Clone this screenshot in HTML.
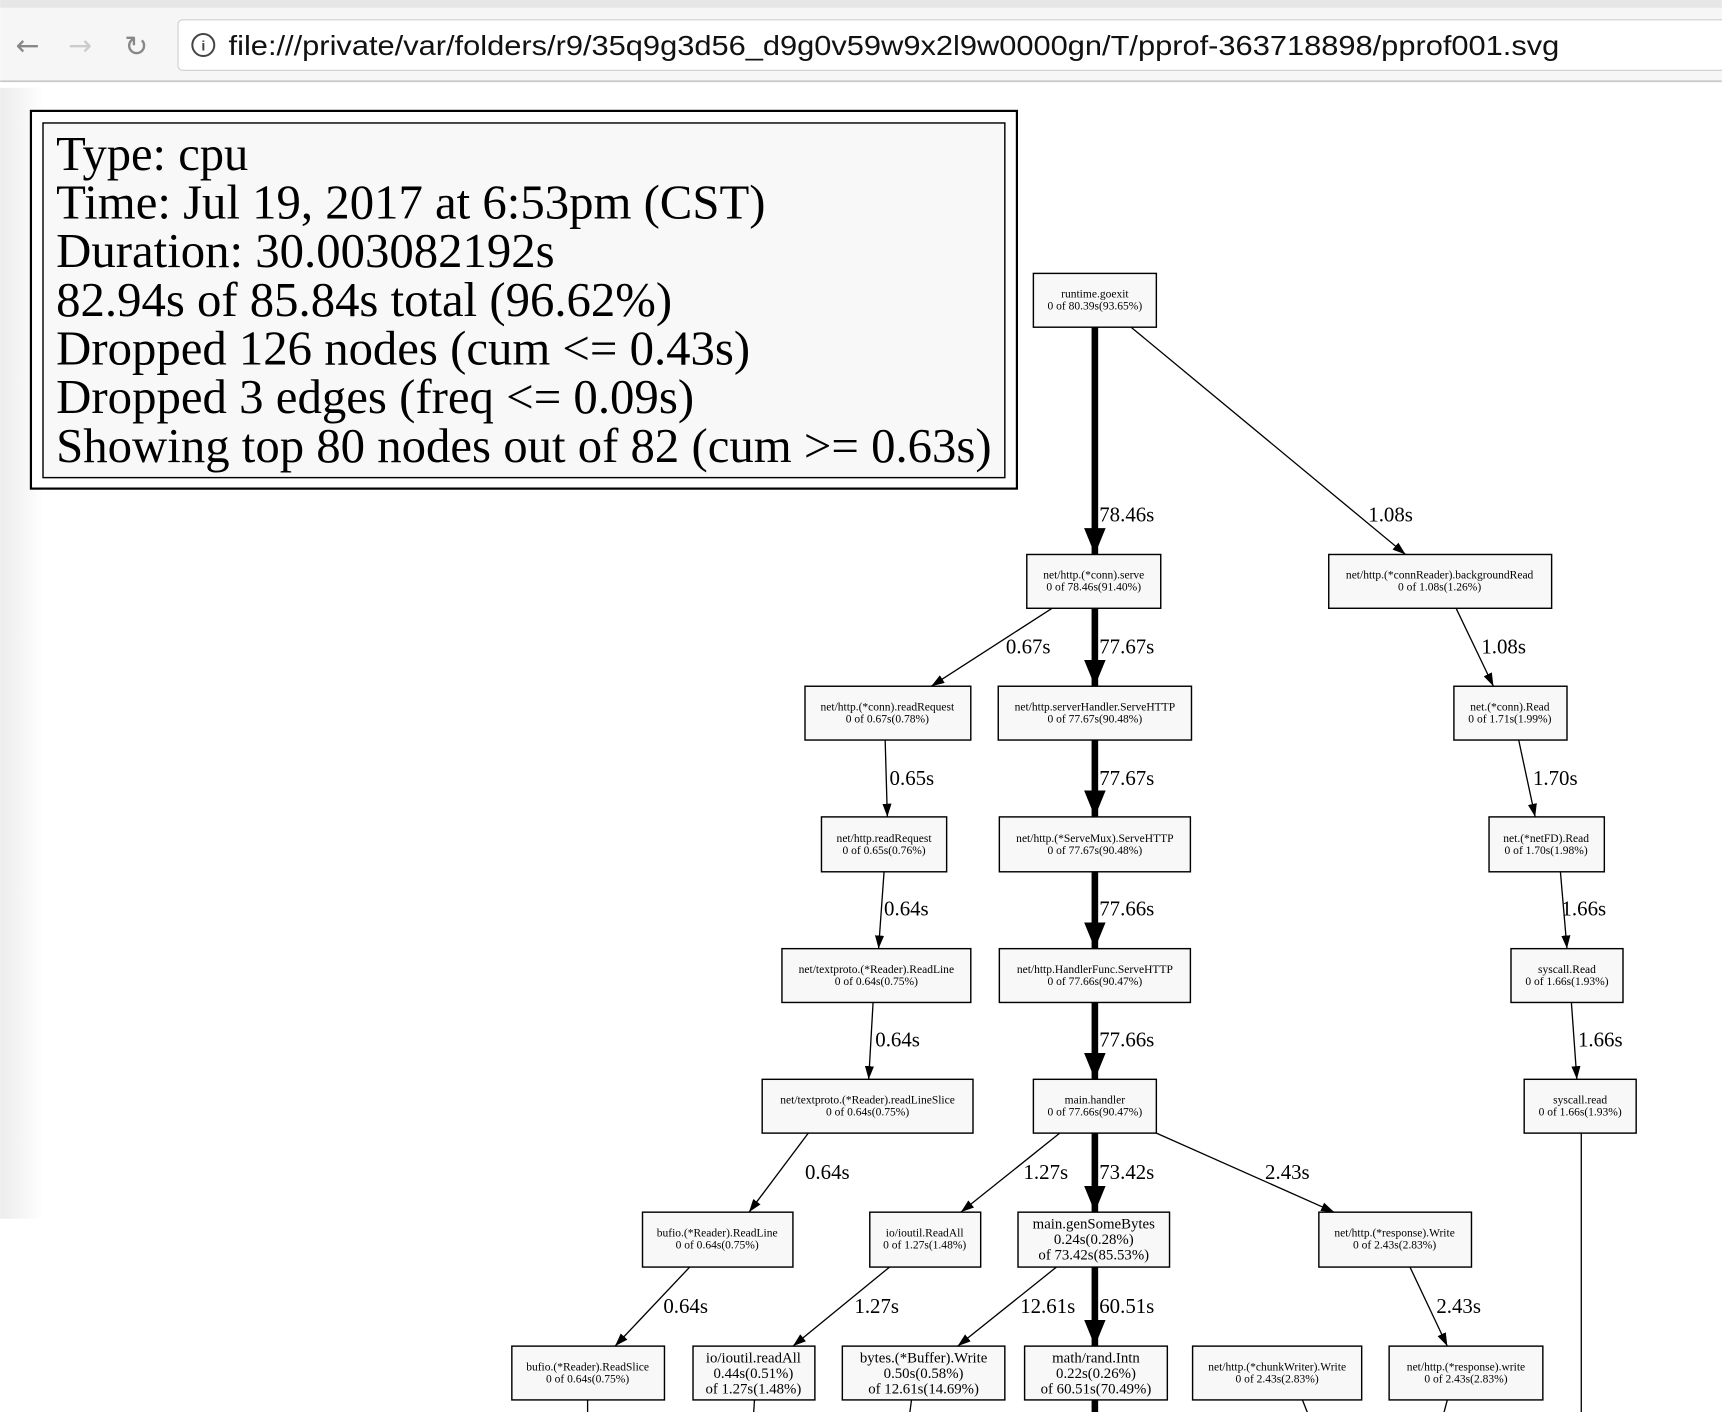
<!DOCTYPE html>
<html><head><meta charset="utf-8"><style>
html,body{margin:0;padding:0;background:#fff;width:1722px;height:1412px;overflow:hidden}
svg{display:block}
.n{fill:#f8f8f8;stroke:#000;stroke-width:1.3}
.t{font-family:"Liberation Serif",serif;font-size:10.5px;text-anchor:middle}
.b{font-family:"Liberation Serif",serif;font-size:13.5px;text-anchor:middle}
.l{font-family:"Liberation Serif",serif;font-size:19px}
.e{stroke:#000;stroke-width:1.2;fill:none}
.k{stroke:#000;stroke-width:6;fill:none}
</style></head><body>
<svg width="1722" height="1412" viewBox="0 0 1568 1286" xmlns="http://www.w3.org/2000/svg">
<defs>
<marker id="a" markerUnits="userSpaceOnUse" markerWidth="12" markerHeight="18" refX="16" refY="5.5" orient="auto" viewBox="0 0 16 11"><path d="M0,0 L16,5.5 L0,11 z" fill="#000"/></marker>
<marker id="A" markerUnits="userSpaceOnUse" markerWidth="24" markerHeight="20" refX="22" refY="9" orient="auto" viewBox="0 0 22 18"><path d="M0,0 L22,9 L0,18 z" fill="#000"/></marker>
<linearGradient id="sh" x1="0" x2="1"><stop offset="0" stop-color="#ececec"/><stop offset="1" stop-color="#fff"/></linearGradient>
</defs>
<rect x="0" y="0" width="1568" height="74" fill="#f6f6f6"/>
<rect x="0" y="0" width="1568" height="7" fill="#e6e6e6"/>
<line x1="0" y1="74" x2="1568" y2="74" stroke="#c8c8c8" stroke-width="1.5"/>
<rect x="162" y="18" width="1420" height="46" rx="4" fill="#fff" stroke="#cfcfcf"/>
<text x="14" y="50" font-family="DejaVu Sans,sans-serif" font-size="26" fill="#888">←</text>
<text x="62" y="50" font-family="DejaVu Sans,sans-serif" font-size="26" fill="#ccc">→</text>
<text x="113" y="51" font-family="DejaVu Sans,sans-serif" font-size="26" fill="#888">↻</text>
<circle cx="185" cy="41" r="10" fill="none" stroke="#444" stroke-width="1.8"/>
<text x="185" y="46" font-family="Liberation Sans,sans-serif" font-size="13" text-anchor="middle" fill="#444" font-weight="bold">i</text>
<text x="208" y="50" font-family="Liberation Sans,sans-serif" font-size="25" fill="#111" textLength="1212" lengthAdjust="spacingAndGlyphs">file:///private/var/folders/r9/35q9g3d56_d9g0v59w9x2l9w0000gn/T/pprof-363718898/pprof001.svg</text>
<rect x="0" y="80" width="40" height="1030" fill="url(#sh)"/>
<rect x="28" y="101" width="898" height="344" fill="#fff" stroke="#000" stroke-width="2"/>
<rect x="39" y="112" width="876" height="323" fill="#f8f8f8" stroke="#000" stroke-width="1.3"/>
<g font-family="Liberation Serif,serif" font-size="44" lengthAdjust="spacingAndGlyphs">
<text x="51" y="155" textLength="175" lengthAdjust="spacingAndGlyphs">Type: cpu</text>
<text x="51" y="199" textLength="646" lengthAdjust="spacingAndGlyphs">Time: Jul 19, 2017 at 6:53pm (CST)</text>
<text x="51" y="243" textLength="454" lengthAdjust="spacingAndGlyphs">Duration: 30.003082192s</text>
<text x="51" y="288" textLength="561" lengthAdjust="spacingAndGlyphs">82.94s of 85.84s total (96.62%)</text>
<text x="51" y="332" textLength="632" lengthAdjust="spacingAndGlyphs">Dropped 126 nodes (cum &lt;= 0.43s)</text>
<text x="51" y="376" textLength="581" lengthAdjust="spacingAndGlyphs">Dropped 3 edges (freq &lt;= 0.09s)</text>
<text x="51" y="421" textLength="852" lengthAdjust="spacingAndGlyphs">Showing top 80 nodes out of 82 (cum &gt;= 0.63s)</text>
</g>
<g class="k" marker-end="url(#A)">
<line x1="997" y1="298" x2="997" y2="505"/>
<line x1="997" y1="554" x2="997" y2="625"/>
<line x1="997" y1="674" x2="997" y2="744"/>
<line x1="997" y1="794" x2="997" y2="864"/>
<line x1="997" y1="913" x2="997" y2="983"/>
<line x1="997" y1="1032" x2="997" y2="1104"/>
<line x1="997" y1="1154" x2="997" y2="1226"/>
</g>
<line class="k" x1="997" y1="1275" x2="997" y2="1290"/>
<g class="e" marker-end="url(#a)">
<line x1="1030" y1="298" x2="1280" y2="505"/>
<line x1="958" y1="554" x2="848" y2="625"/>
<line x1="1326" y1="554" x2="1360" y2="625"/>
<line x1="806" y1="674" x2="808" y2="744"/>
<line x1="1383" y1="674" x2="1398" y2="744"/>
<line x1="805" y1="794" x2="800" y2="864"/>
<line x1="1421" y1="794" x2="1427" y2="864"/>
<line x1="795" y1="913" x2="791" y2="983"/>
<line x1="1431" y1="913" x2="1436" y2="983"/>
<line x1="736" y1="1032" x2="682" y2="1104"/>
<line x1="965" y1="1032" x2="875" y2="1104"/>
<line x1="1053" y1="1032" x2="1215" y2="1104"/>
<line x1="628" y1="1154" x2="560" y2="1226"/>
<line x1="810" y1="1154" x2="722" y2="1226"/>
<line x1="962" y1="1154" x2="872" y2="1226"/>
<line x1="1284" y1="1154" x2="1318" y2="1226"/>
</g>
<g class="e">
<line x1="1440" y1="1032" x2="1440" y2="1290"/>
<line x1="535" y1="1275" x2="535" y2="1290"/>
<line x1="687" y1="1275" x2="686" y2="1290"/>
<line x1="830" y1="1275" x2="828" y2="1290"/>
<line x1="1186" y1="1275" x2="1192" y2="1290"/>
<line x1="1318" y1="1275" x2="1314" y2="1290"/>
</g>
<g class="l">
<text x="1001" y="475">78.46s</text><text x="1246" y="475">1.08s</text>
<text x="916" y="595">0.67s</text><text x="1001" y="595">77.67s</text><text x="1349" y="595">1.08s</text>
<text x="810" y="715">0.65s</text><text x="1001" y="715">77.67s</text><text x="1396" y="715">1.70s</text>
<text x="805" y="834">0.64s</text><text x="1001" y="834">77.66s</text><text x="1422" y="834">1.66s</text>
<text x="797" y="953">0.64s</text><text x="1001" y="953">77.66s</text><text x="1437" y="953">1.66s</text>
<text x="733" y="1074">0.64s</text><text x="932" y="1074">1.27s</text><text x="1001" y="1074">73.42s</text><text x="1152" y="1074">2.43s</text>
<text x="604" y="1196">0.64s</text><text x="778" y="1196">1.27s</text><text x="929" y="1196">12.61s</text><text x="1001" y="1196">60.51s</text><text x="1308" y="1196">2.43s</text>
</g>
<g>
<rect class="n" x="941" y="249" width="112" height="49"/><text class="t" x="997" y="271">runtime.goexit</text><text class="t" x="997" y="282">0 of 80.39s(93.65%)</text>
<rect class="n" x="935" y="505" width="122" height="49"/><text class="t" x="996" y="527">net/http.(*conn).serve</text><text class="t" x="996" y="538">0 of 78.46s(91.40%)</text>
<rect class="n" x="1210" y="505" width="203" height="49"/><text class="t" x="1311" y="527">net/http.(*connReader).backgroundRead</text><text class="t" x="1311" y="538">0 of 1.08s(1.26%)</text>
<rect class="n" x="733" y="625" width="151" height="49"/><text class="t" x="808" y="647">net/http.(*conn).readRequest</text><text class="t" x="808" y="658">0 of 0.67s(0.78%)</text>
<rect class="n" x="909" y="625" width="176" height="49"/><text class="t" x="997" y="647">net/http.serverHandler.ServeHTTP</text><text class="t" x="997" y="658">0 of 77.67s(90.48%)</text>
<rect class="n" x="1324" y="625" width="103" height="49"/><text class="t" x="1375" y="647">net.(*conn).Read</text><text class="t" x="1375" y="658">0 of 1.71s(1.99%)</text>
<rect class="n" x="748" y="744" width="114" height="50"/><text class="t" x="805" y="767">net/http.readRequest</text><text class="t" x="805" y="778">0 of 0.65s(0.76%)</text>
<rect class="n" x="910" y="744" width="174" height="50"/><text class="t" x="997" y="767">net/http.(*ServeMux).ServeHTTP</text><text class="t" x="997" y="778">0 of 77.67s(90.48%)</text>
<rect class="n" x="1356" y="744" width="105" height="50"/><text class="t" x="1408" y="767">net.(*netFD).Read</text><text class="t" x="1408" y="778">0 of 1.70s(1.98%)</text>
<rect class="n" x="712" y="864" width="172" height="49"/><text class="t" x="798" y="886">net/textproto.(*Reader).ReadLine</text><text class="t" x="798" y="897">0 of 0.64s(0.75%)</text>
<rect class="n" x="910" y="864" width="174" height="49"/><text class="t" x="997" y="886">net/http.HandlerFunc.ServeHTTP</text><text class="t" x="997" y="897">0 of 77.66s(90.47%)</text>
<rect class="n" x="1376" y="864" width="102" height="49"/><text class="t" x="1427" y="886">syscall.Read</text><text class="t" x="1427" y="897">0 of 1.66s(1.93%)</text>
<rect class="n" x="694" y="983" width="192" height="49"/><text class="t" x="790" y="1005">net/textproto.(*Reader).readLineSlice</text><text class="t" x="790" y="1016">0 of 0.64s(0.75%)</text>
<rect class="n" x="941" y="983" width="112" height="49"/><text class="t" x="997" y="1005">main.handler</text><text class="t" x="997" y="1016">0 of 77.66s(90.47%)</text>
<rect class="n" x="1388" y="983" width="102" height="49"/><text class="t" x="1439" y="1005">syscall.read</text><text class="t" x="1439" y="1016">0 of 1.66s(1.93%)</text>
<rect class="n" x="585" y="1104" width="137" height="50"/><text class="t" x="653" y="1126">bufio.(*Reader).ReadLine</text><text class="t" x="653" y="1137">0 of 0.64s(0.75%)</text>
<rect class="n" x="792" y="1104" width="101" height="50"/><text class="t" x="842" y="1126">io/ioutil.ReadAll</text><text class="t" x="842" y="1137">0 of 1.27s(1.48%)</text>
<rect class="n" x="927" y="1104" width="138" height="50"/><text class="b" x="996" y="1119">main.genSomeBytes</text><text class="b" x="996" y="1133">0.24s(0.28%)</text><text class="b" x="996" y="1147">of 73.42s(85.53%)</text>
<rect class="n" x="1201" y="1104" width="139" height="50"/><text class="t" x="1270" y="1126">net/http.(*response).Write</text><text class="t" x="1270" y="1137">0 of 2.43s(2.83%)</text>
<rect class="n" x="466" y="1226" width="139" height="49"/><text class="t" x="535" y="1248">bufio.(*Reader).ReadSlice</text><text class="t" x="535" y="1259">0 of 0.64s(0.75%)</text>
<rect class="n" x="631" y="1226" width="111" height="49"/><text class="b" x="686" y="1241">io/ioutil.readAll</text><text class="b" x="686" y="1255">0.44s(0.51%)</text><text class="b" x="686" y="1269">of 1.27s(1.48%)</text>
<rect class="n" x="767" y="1226" width="148" height="49"/><text class="b" x="841" y="1241">bytes.(*Buffer).Write</text><text class="b" x="841" y="1255">0.50s(0.58%)</text><text class="b" x="841" y="1269">of 12.61s(14.69%)</text>
<rect class="n" x="933" y="1226" width="130" height="49"/><text class="b" x="998" y="1241">math/rand.Intn</text><text class="b" x="998" y="1255">0.22s(0.26%)</text><text class="b" x="998" y="1269">of 60.51s(70.49%)</text>
<rect class="n" x="1086" y="1226" width="154" height="49"/><text class="t" x="1163" y="1248">net/http.(*chunkWriter).Write</text><text class="t" x="1163" y="1259">0 of 2.43s(2.83%)</text>
<rect class="n" x="1265" y="1226" width="140" height="49"/><text class="t" x="1335" y="1248">net/http.(*response).write</text><text class="t" x="1335" y="1259">0 of 2.43s(2.83%)</text>
</g>
</svg>
</body></html>
